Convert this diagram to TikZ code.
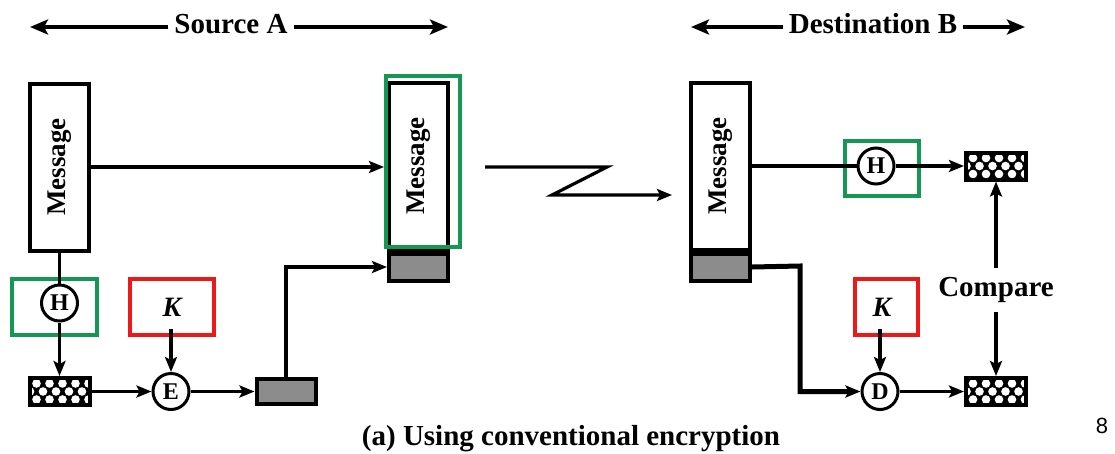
\documentclass[tikz,border=0pt]{standalone}
\usepackage{fontspec}
\setmainfont{Liberation Serif}
\setsansfont{Liberation Sans}
\usetikzlibrary{arrows.meta,calc}
\definecolor{hgreen}{RGB}{22,150,85}
\definecolor{kred}{RGB}{235,25,25}
\begin{document}
\begin{tikzpicture}[x=1pt,y=-1pt,
  arr/.style={line width=3.2pt,-{Stealth[length=15pt,width=12pt,inset=3pt]}},
  thickarr/.style={line width=5pt,-{Stealth[length=15pt,width=12pt,inset=3pt]}},
  plain/.style={line width=3.2pt},
  bigarr/.style={line width=3.6pt,-{Stealth[length=18pt,width=15pt,inset=4pt]}},
  lbl/.style={font=\fontsize{29}{32}\selectfont\bfseries},
  msglbl/.style={rotate=90,font=\fontsize{27}{30}\selectfont\bfseries,inner sep=0pt},
  msgbox/.style={draw,line width=4pt,fill=white,minimum width=59pt,minimum height=167pt,inner sep=0pt},
  graybox/.style={draw,line width=4pt,fill=black!45,minimum width=59pt,minimum height=27pt,inner sep=0pt},
  hatch/.style={draw,line width=4pt,fill=black,minimum width=60pt,minimum height=27pt,inner sep=0pt,
    path picture={
      \foreach \dx in {7,20,33,46,59} {\foreach \dy in {5.5,21.5} {
        \fill[white] ($(path picture bounding box.north west)+(\dx,\dy)$) circle (4.3pt);}}
      \foreach \dx in {0.5,13.5,26.5,39.5,52.5} {
        \fill[white] ($(path picture bounding box.north west)+(\dx,13.5)$) circle (4.3pt);}
    }},
  op/.style={circle,draw,line width=3pt,fill=white,minimum size=36pt,inner sep=0pt,font=\fontsize{24}{26}\selectfont\bfseries},
  gframe/.style={draw=hgreen,line width=4pt,inner sep=0pt},
  rframe/.style={draw=kred,line width=4pt,inner sep=0pt},
  klbl/.style={font=\fontsize{28}{30}\selectfont\bfseries\itshape,inner sep=0pt},
]
\useasboundingbox (0,0) rectangle (1115,453);

% headers
\node[lbl,anchor=base,inner xsep=6pt] (src) at (231,33.5) {Source A};
\coordinate (srcL) at (30,27);
\coordinate (srcR) at (448,27);
\draw[bigarr] (src.west |- srcL) -- (srcL);
\draw[bigarr] (src.east |- srcR) -- (srcR);
\node[lbl,anchor=base,inner xsep=6pt] (dst) at (873,33.5) {Destination B};
\coordinate (dstL) at (691,27);
\coordinate (dstR) at (1025,27);
\draw[bigarr] (dst.west |- dstL) -- (dstL);
\draw[bigarr] (dst.east |- dstR) -- (dstR);

% source side
\node[msgbox] (msgA) at (59.5,167) {};
\node[msglbl] (msgAt) at (msgA) {Message};
\node[op] (hA) at (59.5,303) {H};
\node[gframe,minimum width=85pt,minimum height=56pt] (hAf) at (54.5,307) {};
\node[hatch] (hashA) at (59.5,391.5) {};
\node[rframe,minimum width=84pt,minimum height=56pt] (kA) at (172,307) {};
\node[klbl] (kAt) at (172,307) {K};
\coordinate (kAin) at (171,329);
\node[op] (E) at (171,391.5) {E};
\node[graybox,minimum height=25pt] (grayA) at (286,391.5) {};

\node[msgbox] (msg2) at (418.5,166) {};
\node[msglbl] (msg2t) at (msg2) {Message};
\node[graybox,anchor=north] (gray2) at (msg2.south) {};
\node[gframe,minimum width=74pt,minimum height=171pt] (msg2f) at (423,161.5) {};

\draw[plain] (msgA.south) -- (hA.north);
\draw[arr] (hA.south) -- (hashA.north);
\draw[arr] (kAin) -- (E.north);
\draw[arr] (hashA.east) -- (E.west);
\draw[arr] (E.east) -- (grayA.west);
\draw[arr] (grayA.north) |- (gray2.west);
\draw[arr] (msgA.east) -- (msgA.east -| msg2f.west);

% channel
\coordinate (z0) at (485,167);
\coordinate (z1) at (607,167);
\coordinate (z2) at (552,195);
\coordinate (z3) at (672,195);
\draw[arr] (z0) -- (z1) -- (z2) -- (z3);

% destination side
\node[msgbox] (msgB) at (720.5,166) {};
\node[msglbl] (msgBt) at (msgB) {Message};
\node[graybox,anchor=north] (grayB) at (msgB.south) {};
\node[op] (hB) at (876,166) {H};
\node[gframe,minimum width=74pt,minimum height=55pt] (hBf) at (882,168.5) {};
\node[hatch] (hashB1) at (996,166) {};
\node[lbl,inner ysep=9pt,inner xsep=0pt] (cmp) at (996,290) {Compare};
\node[hatch] (hashB2) at (996,391.5) {};
\node[rframe,minimum width=63pt,minimum height=56pt] (kB) at (886.5,307) {};
\node[klbl] (kBt) at (882,307) {K};
\coordinate (kBin) at (880,329);
\node[op] (D) at (880,391.5) {D};
\coordinate (bend) at (800,266);

\draw[plain] (msgB.east) -- (hB.west);
\draw[arr] (hB.east) -- (hashB1.west);
\draw[arr] (cmp.north) -- (hashB1.south);
\draw[arr] (cmp.south) -- (hashB2.north);
\draw[arr] (kBin) -- (D.north);
\draw[thickarr] (grayB.east) -- (bend) |- (D.west);
\draw[arr] (D.east) -- (hashB2.west);

% caption
\node[lbl,inner sep=0pt] (cap) at (571,439) {(a) Using conventional encryption};
\node[font=\sffamily\fontsize{22}{24}\selectfont,inner sep=0pt] (pg) at (1102,426) {8};
\end{tikzpicture}
\end{document}
